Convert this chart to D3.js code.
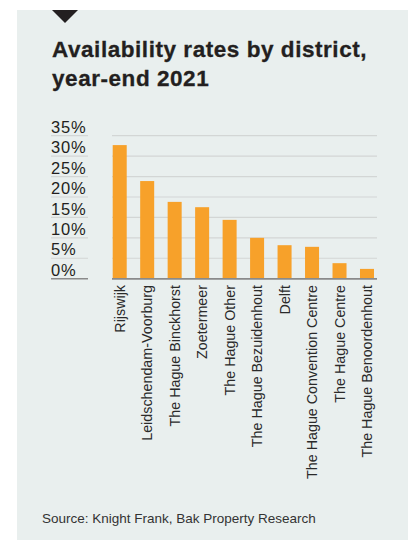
<script src="https://cdnjs.cloudflare.com/ajax/libs/d3/7.8.5/d3.min.js"></script>
<style>
  body { margin: 0; background: #fff; }
  text { font-family: "Liberation Sans", Arial, sans-serif; }
</style>
<svg id="vis"></svg>
<script>
  // Data
  var districts = ['Rijswijk', 'Leidschendam-Voorburg', 'The Hague Binckhorst', 'Zoetermeer',
    'The Hague Other', 'The Hague Bezuidenhout', 'Delft', 'The Hague Convention Centre',
    'The Hague Centre', 'The Hague Benoordenhout']
  var availability = [32.7, 23.9, 18.8, 17.5, 14.4, 10.0, 8.2, 7.8, 3.8, 2.4]
  var yTicks = [0, 5, 10, 15, 20, 25, 30, 35]
  var titleLines = ['Availability rates by district,', 'year-end 2021']
  var source = 'Source: Knight Frank, Bak Property Research'

  var W = 414, H = 540
  var svg = d3.select('#vis').attr('width', W).attr('height', H)

  // panel + marker
  svg.append('rect').attr('x', 17).attr('y', 10).attr('width', 391).attr('height', 530).attr('fill', '#e9efee')
  svg.append('path').attr('d', 'M52,10 L78,10 L65,23 Z').attr('fill', '#231f20')

  // title
  svg.selectAll('.title').data(titleLines).enter().append('text')
    .attr('class', 'title')
    .attr('x', 52)
    .attr('y', function(d, i) { return 57 + i * 29 })
    .attr('font-size', 22.5)
    .attr('font-weight', 'bold')
    .attr('letter-spacing', 0.55)
    .attr('fill', '#231f20')
    .attr('stroke', '#231f20')
    .attr('stroke-width', 0.3)
    .text(function(d) { return d })

  // scales
  var x = d3.scaleBand().domain(districts).range([112.7, 374]).paddingInner(0.49).paddingOuter(0)
  var y = d3.scaleLinear().domain([0, 35]).range([278.7, 135.7])

  // gridlines, short under labels and long across the plot
  var grid = svg.append('g')
  grid.selectAll('.gl').data(yTicks).enter().append('line')
    .attr('x1', 51).attr('x2', 88)
    .attr('y1', function(d) { return y(d) }).attr('y2', function(d) { return y(d) })
    .attr('stroke', function(d) { return d === 0 ? '#8a8a8a' : '#d3d6d5' })
    .attr('stroke-width', function(d) { return d === 0 ? 1.6 : 1.2 })
  grid.selectAll('.gr').data(yTicks).enter().append('line')
    .attr('x1', 112).attr('x2', 377)
    .attr('y1', function(d) { return y(d) }).attr('y2', function(d) { return y(d) })
    .attr('stroke', function(d) { return d === 0 ? '#8a8a8a' : '#d3d6d5' })
    .attr('stroke-width', function(d) { return d === 0 ? 1.6 : 1.2 })

  // y labels
  svg.selectAll('.yl').data(yTicks).enter().append('text')
    .attr('x', 51)
    .attr('y', function(d) { return y(d) - 2.8 })
    .attr('font-size', 16.5)
    .attr('letter-spacing', 0.8)
    .attr('fill', '#231f20')
    .text(function(d) { return d + '%' })

  // bars
  svg.selectAll('.bar').data(availability).enter().append('rect')
    .attr('x', function(d, i) { return x(districts[i]) })
    .attr('y', function(d) { return y(d) })
    .attr('width', x.bandwidth())
    .attr('height', function(d) { return y(0) - y(d) })
    .attr('fill', '#f7a12a')

  // redraw axis above bars
  svg.append('line').attr('x1', 112).attr('x2', 377).attr('y1', y(0)).attr('y2', y(0))
    .attr('stroke', '#8a8a8a').attr('stroke-width', 1.6)

  // x labels
  svg.selectAll('.xl').data(districts).enter().append('text')
    .attr('transform', function(d) { return 'translate(' + (x(d) + x.bandwidth() / 2) + ',285) rotate(-90)' })
    .attr('text-anchor', 'end')
    .attr('dy', '0.36em')
    .attr('font-size', 14.3)
    .attr('fill', '#2a2a2a')
    .text(function(d) { return d })

  // source
  svg.append('text').attr('x', 42).attr('y', 523)
    .attr('font-size', 13.5).attr('fill', '#333')
    .text(source)
</script>
